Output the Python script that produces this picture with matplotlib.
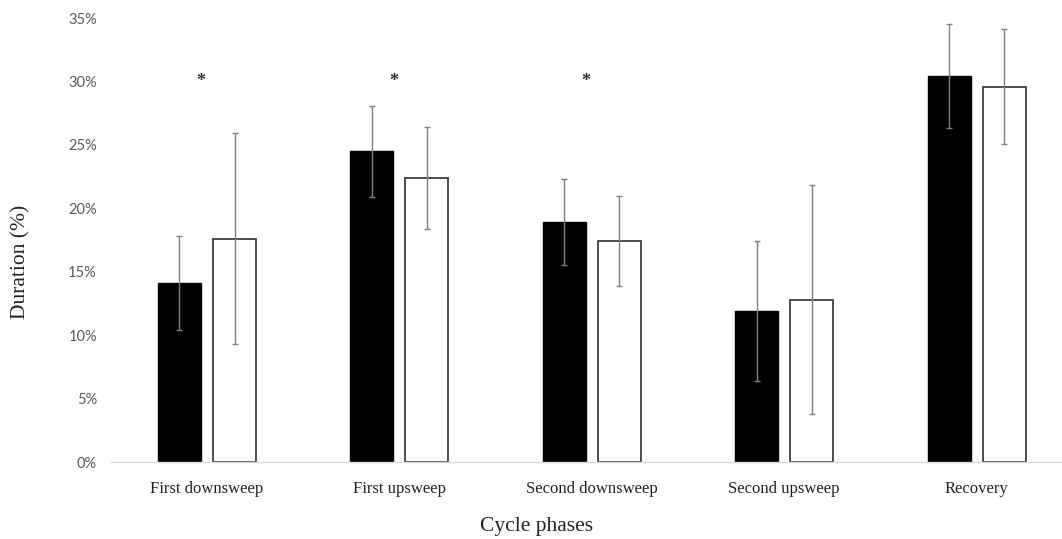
import matplotlib.pyplot as plt
import numpy as np

phases = ["First downsweep", "First upsweep", "Second downsweep",
          "Second upsweep", "Recovery"]
group_a = [14.1, 24.5, 18.9, 11.9, 30.4]
group_a_sd = [3.7, 3.6, 3.4, 5.5, 4.1]
group_b = [17.6, 22.4, 17.4, 12.8, 29.6]
group_b_sd = [8.3, 4.0, 3.55, 9.0, 4.55]
star_phases = [0, 1, 2]
star_level = 30.0
yticks = [0, 5, 10, 15, 20, 25, 30, 35]

serif = ["Liberation Serif", "DejaVu Serif"]
sans = ["Lato", "DejaVu Sans"]

fig = plt.figure(figsize=(10.62, 5.39), dpi=100)
ax = fig.add_axes([110.8 / 1062, 1 - 462 / 539, 962 / 1062, 444 / 539])

x = np.arange(len(phases))
w = 0.2235
off = 0.143
err_kw = dict(ecolor="#808080", elinewidth=1.0, capsize=2, capthick=1.0)

ax.bar(x - off, group_a, w, color="black", edgecolor="black",
       yerr=group_a_sd, error_kw=err_kw, zorder=2)
ax.bar(x + off, group_b, w, color="white", edgecolor="#404040", linewidth=1.3,
       yerr=group_b_sd, error_kw=err_kw, zorder=2)

# significance markers
for i in star_phases:
    ax.text(x[i] - 0.03, star_level, "*", ha="center", va="center",
            fontsize=13, fontweight="bold", color="#333333", family=serif)

ax.set_xlim(-0.5, len(phases) - 0.5)
ax.set_ylim(0, 35)
ax.set_yticks(yticks)
ax.set_yticklabels(["{}%".format(v) for v in yticks], family=sans,
                   fontsize=10.5, color="#595959")
ax.set_xticks(x)
ax.set_xticklabels(phases, family=serif, fontsize=12, color="#222222")
ax.tick_params(axis="both", length=0)
ax.tick_params(axis="y", pad=10)
ax.tick_params(axis="x", pad=14)

for side in ["top", "right", "left"]:
    ax.spines[side].set_visible(False)
ax.spines["bottom"].set_color("#d9d9d9")
ax.spines["bottom"].set_linewidth(1.0)

fig.text(21 / 1062, 1 - 262 / 539, "Duration (%)", rotation=90, ha="center",
         va="center", family=serif, fontsize=15.5, color="#222222")
fig.text(537 / 1062, 1 - 526 / 539, "Cycle phases", ha="center",
         va="center", family=serif, fontsize=15.5, color="#222222")

fig.savefig("out.png", dpi=100)
